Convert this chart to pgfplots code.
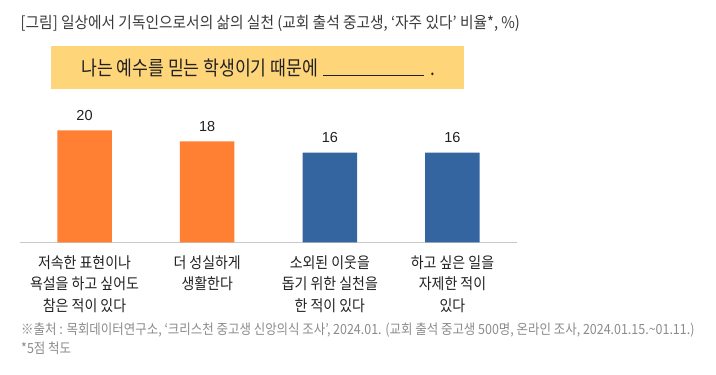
\documentclass[border=0pt]{standalone}
\usepackage{fontspec}
\usepackage{pgfplots}
\pgfplotsset{compat=1.18}
\setmainfont{Noto Sans CJK KR}
\newfontfamily\condA[FakeStretch=0.92]{Noto Sans CJK KR}
\newfontfamily\condB[FakeStretch=0.86]{Noto Sans CJK KR}
\newfontfamily\condC[FakeStretch=0.9]{Noto Sans CJK KR}
\newfontfamily\condD[FakeStretch=0.89]{Noto Sans CJK KR}
\newfontfamily\numfont{Liberation Sans}
\definecolor{barorange}{HTML}{FF8033}
\definecolor{barblue}{HTML}{3565A1}
\definecolor{boxyellow}{HTML}{FFD57A}
\definecolor{titlegray}{HTML}{3A3A3A}
\definecolor{srcgray}{HTML}{8C8C8C}
\definecolor{axisgray}{HTML}{C8C8C8}
\begin{document}
\begin{tikzpicture}[x=1pt,y=1pt]
\path[use as bounding box, fill=white] (0,0) rectangle (716,375);
% title
\node[anchor=west, inner sep=0pt, text=titlegray] at (20.5,352) {\condA\fontsize{16}{18}\selectfont [그림] 일상에서 기독인으로서의 삶의 실천 (교회 출석 중고생, ‘자주 있다’ 비율*, \%)};
% yellow box
\fill[boxyellow] (51,286) rectangle (464,329);
\node[anchor=west, inner sep=0pt, text=black!87] at (81,307.5) {\condB\fontsize{20}{22}\selectfont 나는 예수를 믿는 학생이기 때문에\hspace{5pt}\rule[-1pt]{101pt}{1.2pt}\hspace{6pt}.};
\begin{axis}[
  at={(20pt,132.7pt)}, anchor=south west,
  scale only axis, width=497pt, height=134.4pt,
  xmin=-0.526, xmax=3.526, ymin=0, ymax=24,
  axis x line=bottom, axis y line=none,
  x axis line style={axisgray, line width=1.4pt, -},
  xtick={0,1,2,3}, major tick length=0pt,
  xticklabels={{저속한 표현이나\\욕설을 하고 싶어도\\참은 적이 있다},{더 성실하게\\생활한다},{소외된 이웃을\\돕기 위한 실천을\\한 적이 있다},{하고 싶은 일을\\자제한 적이\\있다}},
  xticklabel style={align=center, anchor=north, inner sep=0pt, yshift=-13pt, font=\condC\fontsize{15.5}{21.5}\selectfont, text=black!87},
  ytick=\empty,
  clip=false,
  nodes near coords={\pgfmathprintnumber[assume math mode=true]{\pgfplotspointmeta}},
  every node near coord/.append style={anchor=base, inner sep=0pt, yshift=10pt, font=\numfont\fontsize{14.5}{16}\selectfont, text=black!87},
]
\addplot[ybar, bar width=54.5pt, bar shift=0pt, fill=barorange, draw=none] coordinates {(0,20) (1,18)};
\addplot[ybar, bar width=54.5pt, bar shift=0pt, fill=barblue, draw=none] coordinates {(2,16) (3,16)};
\end{axis}
% source
\node[anchor=west, inner sep=0pt, text=srcgray] at (21,45) {\condD\fontsize{14}{16}\selectfont ※출처 : 목회데이터연구소, ‘크리스천 중고생 신앙의식 조사’, 2024.01. (교회 출석 중고생 500명, 온라인 조사, 2024.01.15.\textasciitilde 01.11.)};
\node[anchor=west, inner sep=0pt, text=srcgray] at (21,27) {\condD\fontsize{14}{16}\selectfont *5점 척도};
\end{tikzpicture}
\end{document}
